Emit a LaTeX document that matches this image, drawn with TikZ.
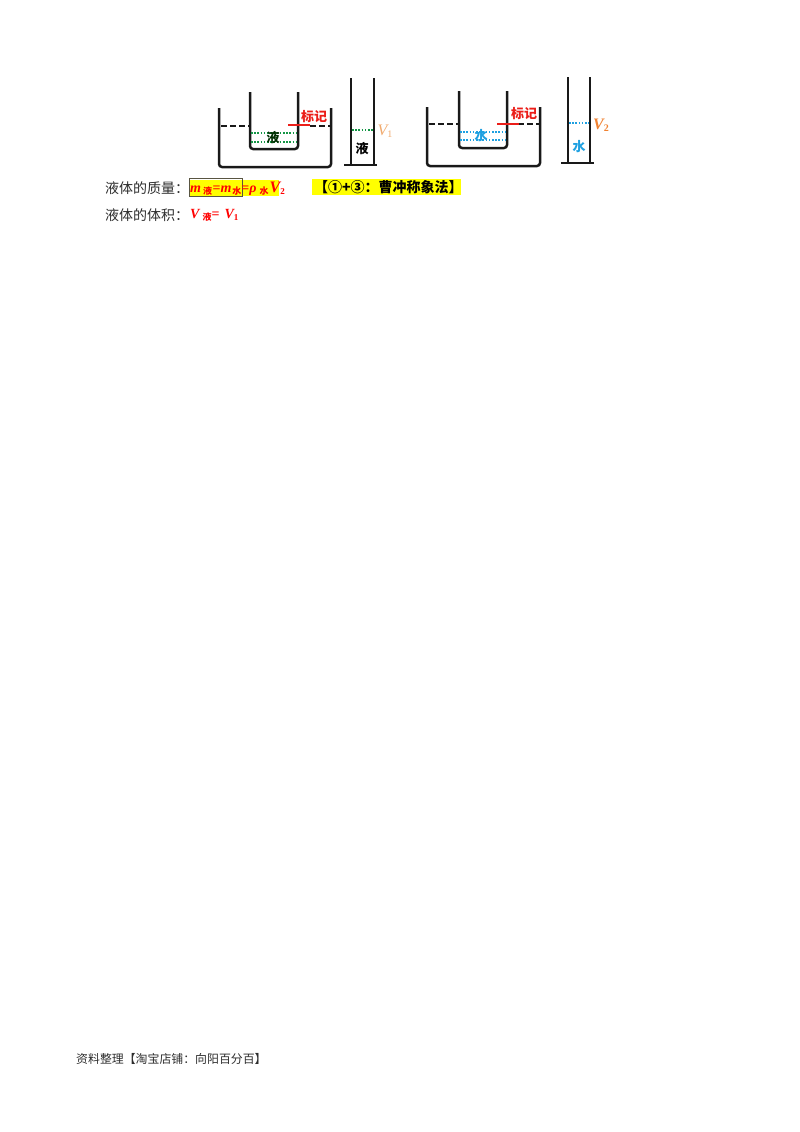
\documentclass[tikz,border=0pt]{standalone}
\usepackage{fontspec}
\setmainfont{Liberation Serif}
\newfontfamily\cjk{Noto Sans CJK SC}
\newfontfamily\lat{Liberation Serif}
\usetikzlibrary{calc}
\definecolor{hl}{RGB}{255,255,0}
\definecolor{wire}{RGB}{25,25,25}
\definecolor{mark}{RGB}{235,30,25}
\definecolor{liqgreen}{RGB}{20,150,70}
\definecolor{liqblue}{RGB}{30,160,225}
\definecolor{vorange}{RGB}{240,170,110}
\definecolor{vdeep}{RGB}{240,130,50}
\definecolor{txt}{RGB}{45,45,45}
\newcommand{\fs}[1]{\fontsize{#1pt}{#1pt}\selectfont}
\newcommand{\sub}[1]{\raisebox{-2pt}{\cjk\bfseries\fs{9}#1}}
\tikzset{
  glass/.style={draw=wire,line width=2.5pt,line join=round,rounded corners=3pt},
  tube/.style={draw=wire,line width=2.2pt},
  levelline/.style={draw=wire,line width=2pt,dash pattern=on 6pt off 3pt},
  redmark/.style={draw=mark,line width=2.6pt},
  dots/.style={line width=1.4pt,dash pattern=on 1.6pt off 1.6pt},
  tag/.style={inner sep=0pt,text=mark,font=\cjk\bfseries\fs{13}},
  body/.style={inner sep=0pt,anchor=west,text=txt,font=\cjk\fs{14}},
  liq/.style={inner sep=0pt,font=\cjk\bfseries\fs{13}},
  formula/.style={inner sep=0pt,anchor=west,text=red,font=\lat\bfseries\itshape\fs{14}},
}
\begin{document}
\begin{tikzpicture}[x=1pt,y=-1pt]
\useasboundingbox (0,0) rectangle (800,1132);
% left beaker
\coordinate (la) at (219,108); \coordinate (lb) at (219,167); \coordinate (lc) at (331,167); \coordinate (ld) at (331,108);
\coordinate (li1) at (250,92); \coordinate (li2) at (250,149); \coordinate (li3) at (298,149); \coordinate (li4) at (298,92);
\draw[glass] (la) -- (lb) -- (lc) -- (ld);
\draw[glass] (li1) -- (li2) -- (li3) -- (li4);
\coordinate (ld1) at (221,126); \coordinate (ld2) at (249,126); \coordinate (ld3) at (310,126); \coordinate (ld4) at (330,126);
\draw[levelline] (ld1) -- (ld2);
\draw[levelline] (ld3) -- (ld4);
\coordinate (lr1) at (288,125); \coordinate (lr2) at (310,125);
\draw[redmark] (lr1) -- (lr2);
\coordinate (lg1) at (251,133); \coordinate (lg2) at (297,133); \coordinate (lg3) at (251,142); \coordinate (lg4) at (297,142);
\draw[dots,liqgreen] (lg1) -- (lg2);
\draw[dots,liqgreen] (lg3) -- (lg4);
\node[liq,text=black!70!green!60!black] (lliq) at (273,138) {液};
\node[tag] (ltag) at (314,117) {标记};
% left cylinder
\coordinate (lc1) at (351,78); \coordinate (lc2) at (351,165); \coordinate (lc3) at (374,78); \coordinate (lc4) at (374,165);
\coordinate (lc5) at (344,165); \coordinate (lc6) at (377,165);
\draw[tube] (lc1) -- (lc2);
\draw[tube] (lc3) -- (lc4);
\draw[tube] (lc5) -- (lc6);
\coordinate (lv1) at (352,130); \coordinate (lv2) at (373,130);
\draw[dots,liqgreen] (lv1) -- (lv2);
\node[liq,text=black] (lcliq) at (362,149) {液};
\node[inner sep=0pt,text=vorange,font=\lat\itshape\fs{16}] (v1) at (385,131) {V\raisebox{-2pt}{\fs{10}\upshape 1}};
% right beaker
\coordinate (ra) at (427,107); \coordinate (rb) at (427,166); \coordinate (rc) at (540,166); \coordinate (rd) at (540,107);
\coordinate (ri1) at (459,91); \coordinate (ri2) at (459,148); \coordinate (ri3) at (507,148); \coordinate (ri4) at (507,91);
\draw[glass] (ra) -- (rb) -- (rc) -- (rd);
\draw[glass] (ri1) -- (ri2) -- (ri3) -- (ri4);
\coordinate (rd1) at (429,124); \coordinate (rd2) at (458,124); \coordinate (rd3) at (518,124); \coordinate (rd4) at (539,124);
\draw[levelline] (rd1) -- (rd2);
\draw[levelline] (rd3) -- (rd4);
\coordinate (rr1) at (497,124); \coordinate (rr2) at (519,124);
\draw[redmark] (rr1) -- (rr2);
\coordinate (rg1) at (460,132); \coordinate (rg2) at (506,132); \coordinate (rg3) at (460,140); \coordinate (rg4) at (506,140);
\draw[dots,liqblue] (rg1) -- (rg2);
\draw[dots,liqblue] (rg3) -- (rg4);
\node[liq,text=liqblue] (rliq) at (481,136) {水};
\node[tag] (rtag) at (524,114) {标记};
% right cylinder
\coordinate (rc1) at (568,77); \coordinate (rc2) at (568,163); \coordinate (rc3) at (590,77); \coordinate (rc4) at (590,163);
\coordinate (rc5) at (561,163); \coordinate (rc6) at (594,163);
\draw[tube] (rc1) -- (rc2);
\draw[tube] (rc3) -- (rc4);
\draw[tube] (rc5) -- (rc6);
\coordinate (rv1) at (569,123); \coordinate (rv2) at (589,123);
\draw[dots,liqblue] (rv1) -- (rv2);
\node[liq,text=liqblue] (rcliq) at (579,147) {水};
\node[inner sep=0pt,text=vdeep,font=\lat\itshape\bfseries\fs{16}] (v2) at (601,125) {V\raisebox{-2pt}{\fs{10}\upshape 2}};
% text rows
\fill[hl] (190,180) rectangle (279,196);
\draw[draw=black!75!yellow,line width=1pt] (189.5,178.5) rectangle (242,196);
\fill[hl] (312,179) rectangle (461,195);
\node[body] (mass) at (105,188.5) {液体的质量：};
\node[body] (vol) at (105,215) {液体的体积：};
\node[formula] (mform) at (190,189) {m\hspace{2pt}\sub{液}\hspace{0.5pt}{\upshape =}m\hspace{1pt}\sub{水}{\upshape =}ρ\hspace{3pt}\sub{水}\hspace{1pt}{\fs{16}V}\raisebox{-2pt}{\fs{9}\upshape 2}};
\node[formula] (vform) at (190,215.5) {V\hspace{3pt}\sub{液}{\upshape =}\hspace{5pt}V\raisebox{-2pt}{\fs{9}\upshape 1}};
\node[inner sep=0pt,anchor=west,text=black,font=\cjk\bfseries\fs{14}] (method) at (314,187.5) {【①+③：曹冲称象法】};
\node[inner sep=0pt,anchor=west,text=txt,font=\cjk\fs{11.9}] (foot) at (76,1059) {资料整理【淘宝店铺：向阳百分百】};
\end{tikzpicture}
\end{document}
